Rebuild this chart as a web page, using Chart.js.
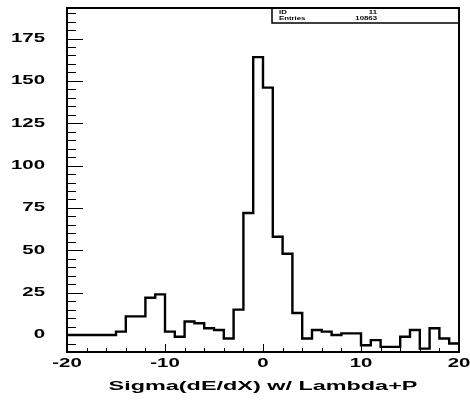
<!DOCTYPE html>
<html>
<head>
<meta charset="utf-8">
<script src="https://cdn.jsdelivr.net/npm/chart.js@4/dist/chart.umd.min.js"></script>
<style>
  body { margin: 0; background: #fff; }
  #wrap { width: 470px; height: 406px; }
</style>
</head>
<body>
<div id="wrap"><canvas id="histo" width="470" height="406"></canvas></div>
<script>
// lower edge of each 1-unit bin
const binLow = [-20, -19, -18, -17, -16, -15, -14, -13, -12, -11,
                -10, -9, -8, -7, -6, -5, -4, -3, -2, -1,
                0, 1, 2, 3, 4, 5, 6, 7, 8, 9,
                10, 11, 12, 13, 14, 15, 16, 17, 18, 19];
const counts = [0, 0, 0, 0, 0, 2, 11, 11, 22, 24,
                2, -1, 8, 7, 4, 3, -2, 15, 72, 164,
                146, 58, 48, 13, -2, 3, 2, 0, 1, 1,
                -6, -3, -7, -7, -1, 3, -8, 4, -2, -5];
const xMin = -20, xMax = 20;
const yMin = -10, yMax = 193;
const yTicks = [0, 25, 50, 75, 100, 125, 150, 175];
const xTicks = [-20, -10, 0, 10, 20];
const xTitle = 'Sigma(dE/dX) w/ Lambda+P';
const statLabels = ['ID', 'Entries'];
const statValues = ['11', '10863'];

// stepped 'before': each point's value runs flat to the next point
const points = binLow.map((x, i) => ({ x: x, y: counts[i] }));
points.push({ x: xMax, y: counts[counts.length - 1] });

const FONT = '"Liberation Sans", Arial, sans-serif';

function wideText(ctx, txt, x, y, size, sx, align) {
  ctx.save();
  ctx.font = 'bold ' + size + 'px ' + FONT;
  ctx.textBaseline = 'middle';
  const w = ctx.measureText(txt).width * sx;
  let left = x;
  if (align === 'center') left = x - w / 2;
  if (align === 'right') left = x - w;
  ctx.translate(left, y);
  ctx.scale(sx, 1);
  ctx.textAlign = 'left';
  ctx.fillText(txt, 0, 0);
  ctx.restore();
}

const paw = {
  id: 'paw',
  afterDraw(chart) {
    const ctx = chart.ctx;
    const a = chart.chartArea;
    const xs = chart.scales.x, ys = chart.scales.y;
    ctx.save();
    ctx.strokeStyle = '#000';
    ctx.fillStyle = '#000';

    // frame
    ctx.lineWidth = 2;
    ctx.strokeRect(a.left, a.top, a.right - a.left, a.bottom - a.top);

    // y ticks, inward
    ctx.lineWidth = 1;
    ctx.beginPath();
    for (let v = -5; v <= yMax; v += 5) {
      const py = Math.round(ys.getPixelForValue(v)) + 0.5;
      const len = v % 25 === 0 ? 16 : 9;
      ctx.moveTo(a.left, py);
      ctx.lineTo(a.left + len, py);
    }
    // x ticks, inward
    for (let v = xMin + 2; v < xMax; v += 2) {
      const px = Math.round(xs.getPixelForValue(v)) + 0.5;
      const len = v % 10 === 0 ? 8 : 4;
      ctx.moveTo(px, a.bottom);
      ctx.lineTo(px, a.bottom - len);
    }
    ctx.stroke();

    // tick labels
    yTicks.forEach(v => wideText(ctx, String(v), 45, ys.getPixelForValue(v), 12, 1.7, 'right'));
    xTicks.forEach(v => wideText(ctx, String(v), xs.getPixelForValue(v), 364, 12, 1.7, 'center'));

    // axis title
    wideText(ctx, xTitle, 263, 386, 13, 1.8, 'center');

    // stat box
    ctx.lineWidth = 1.5;
    ctx.strokeRect(272, a.top, a.right - 272, 15);
    statLabels.forEach((s, i) => wideText(ctx, s, 279, a.top + 4 + i * 6.5, 6, 1.3, 'left'));
    statValues.forEach((s, i) => wideText(ctx, s, 377, a.top + 4 + i * 6.5, 6, 1.3, 'right'));
    ctx.restore();
  }
};

new Chart(document.getElementById('histo').getContext('2d'), {
  type: 'line',
  data: {
    datasets: [{
      data: points,
      borderColor: '#000',
      borderWidth: 2.4,
      stepped: 'before',
      pointRadius: 0,
      fill: false
    }]
  },
  options: {
    responsive: false,
    animation: false,
    layout: { padding: { left: 67, right: 11, top: 8, bottom: 54 } },
    plugins: { legend: { display: false }, tooltip: { enabled: false } },
    scales: {
      x: { type: 'linear', min: xMin, max: xMax, display: false },
      y: { type: 'linear', min: yMin, max: yMax, display: false }
    }
  },
  plugins: [paw]
});
</script>
</body>
</html>
